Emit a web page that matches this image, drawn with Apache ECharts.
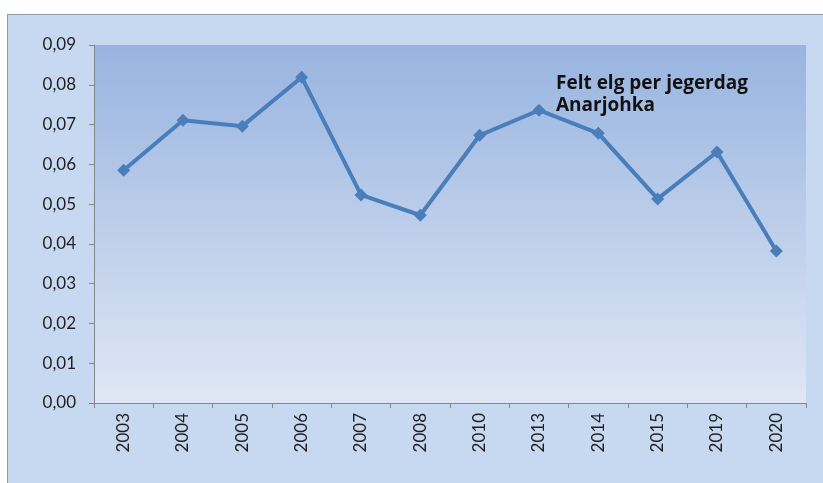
<!DOCTYPE html>
<html>
<head>
<meta charset="utf-8">
<script src="https://cdn.jsdelivr.net/npm/echarts@6/dist/echarts.min.js"></script>
<style>
  body { margin: 0; background: #fff; }
  #frame { position: absolute; left: 7px; top: 14px; width: 815px; height: 468px; background: #c6d9f1; border: 1px solid #8e9cad; border-right: none; border-bottom: none; }
  #chart { position: absolute; left: 0; top: 0; width: 823px; height: 483px; }
</style>
</head>
<body>
<div id="frame"></div>
<div id="chart"></div>
<script>
// Felt elg per jegerdag, Anarjohka
const years = ['2003', '2004', '2005', '2006', '2007', '2008', '2010', '2013', '2014', '2015', '2019', '2020'];
const perDay = [0.0585, 0.0711, 0.0696, 0.0819, 0.0523, 0.0472, 0.0673, 0.0736, 0.0678, 0.0513, 0.0631, 0.0382];

const chart = echarts.init(document.getElementById('chart'));
chart.setOption({
  animation: false,
  backgroundColor: 'transparent',
  textStyle: { fontFamily: 'Lato, "Open Sans", sans-serif' },
  title: {
    text: 'Felt elg per jegerdag\nAnarjohka',
    left: 551,
    top: 68,
    textStyle: { fontSize: 19, fontWeight: 'bold', color: '#111', lineHeight: 22, fontFamily: '"Open Sans", sans-serif' }
  },
  grid: {
    left: 94, top: 45, width: 712, height: 358,
    show: true,
    borderWidth: 0,
    backgroundColor: {
      type: 'linear', x: 0, y: 0, x2: 0, y2: 1,
      colorStops: [
        { offset: 0, color: '#98b4e0' },
        { offset: 1, color: '#e0e7f4' }
      ]
    }
  },
  xAxis: {
    type: 'category',
    data: years,
    boundaryGap: true,
    axisLine: { lineStyle: { color: '#868686', width: 1 } },
    axisTick: { show: true, length: 5, lineStyle: { color: '#868686' } },
    axisLabel: { rotate: 90, color: '#1f1f1f', fontSize: 17, margin: 10 }
  },
  yAxis: {
    type: 'value',
    min: 0,
    max: 0.09,
    interval: 0.01,
    axisLine: { show: true, lineStyle: { color: '#868686', width: 1 } },
    axisTick: { show: true, length: 5, lineStyle: { color: '#868686' } },
    splitLine: { show: false },
    axisLabel: {
      color: '#1f1f1f', fontSize: 17, margin: 18,
      formatter: v => v.toFixed(2).replace('.', ',')
    }
  },
  series: [{
    type: 'line',
    data: perDay,
    symbol: 'diamond',
    symbolSize: 13,
    lineStyle: { color: '#4a7ebb', width: 4 },
    itemStyle: { color: '#4a7ebb' }
  }]
});
</script>
</body>
</html>
